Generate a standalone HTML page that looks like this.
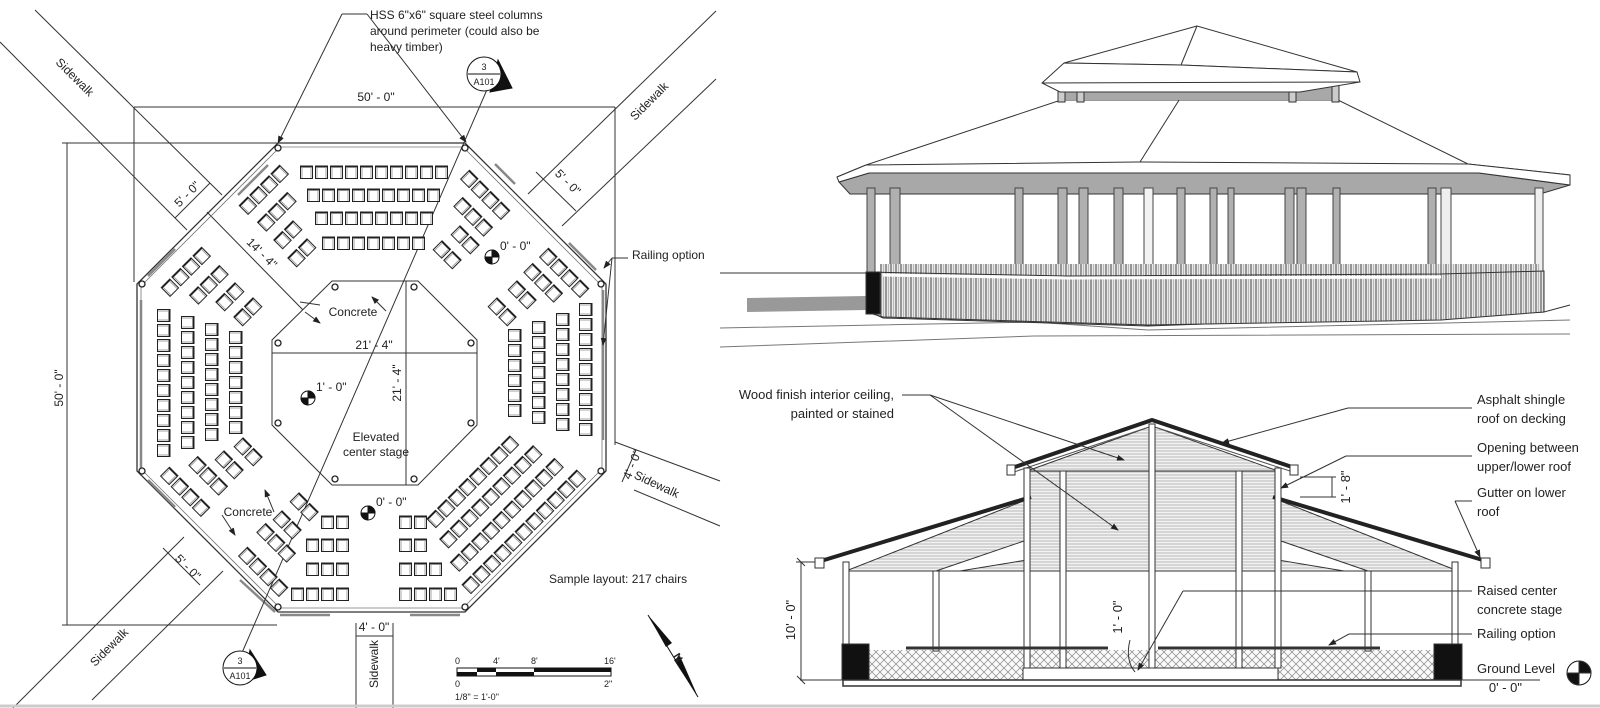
<!DOCTYPE html>
<html><head><meta charset="utf-8"><style>
html,body{margin:0;padding:0;background:#fff;}
svg{display:block;}
text{font-family:"Liberation Sans",sans-serif;fill:#222;}
</style></head><body>
<svg width="1600" height="708" viewBox="0 0 1600 708" xmlns="http://www.w3.org/2000/svg">
<defs>
<pattern id="ch" width="15" height="15" patternUnits="userSpaceOnUse">
<rect x="1.5" y="1" width="12" height="12.5" fill="#fff" stroke="#222" stroke-width="1"/>
<line x1="1.5" y1="1.5" x2="13.5" y2="1.5" stroke="#222" stroke-width="2"/>
<line x1="3" y1="3" x2="3" y2="13" stroke="#666" stroke-width="0.6"/>
<line x1="12" y1="3" x2="12" y2="13" stroke="#666" stroke-width="0.6"/>
</pattern>
<pattern id="rl" width="5" height="10" patternUnits="userSpaceOnUse">
<rect width="5" height="10" fill="#e8e8e8"/>
<line x1="1" y1="0" x2="1" y2="10" stroke="#333" stroke-width="0.9"/>
<line x1="3.5" y1="0" x2="3.5" y2="10" stroke="#999" stroke-width="0.6"/>
</pattern>
<pattern id="hz" width="6" height="3" patternUnits="userSpaceOnUse">
<rect width="6" height="3" fill="#f2f2f2"/>
<line x1="0" y1="1" x2="6" y2="1" stroke="#aaa" stroke-width="0.8"/>
</pattern>
<pattern id="xh" width="8" height="8" patternUnits="userSpaceOnUse">
<rect width="8" height="8" fill="#fafafa"/>
<path d="M0 0L8 8M8 0L0 8" stroke="#888" stroke-width="0.7"/>
</pattern>
<marker id="ar" markerWidth="8" markerHeight="6" refX="7" refY="3" orient="auto"><path d="M0 0L8 3L0 6z" fill="#222"/></marker>
</defs>

<!-- ============ PLAN ============ -->
<g stroke="#333" stroke-width="1" fill="none">
<line x1="35" y1="10" x2="222" y2="195"/>
<line x1="0" y1="42" x2="187" y2="230"/>
<line x1="716" y1="11" x2="528" y2="194"/>
<line x1="716" y1="79" x2="562" y2="226"/>
<line x1="615" y1="442" x2="720" y2="481"/>
<line x1="634" y1="490" x2="720" y2="526"/>
<line x1="184" y1="537" x2="13" y2="708"/>
<line x1="223" y1="571" x2="92" y2="700"/>
<line x1="356" y1="623" x2="356" y2="708"/>
<line x1="393" y1="623" x2="393" y2="708"/>
<line x1="134" y1="107" x2="615" y2="107"/>
<line x1="134" y1="107" x2="134" y2="282"/>
<line x1="615" y1="107" x2="615" y2="445"/>
<line x1="67" y1="143" x2="67" y2="625"/>
<line x1="62" y1="143" x2="277" y2="143"/>
<line x1="62" y1="625" x2="277" y2="625"/>
<line x1="175" y1="218" x2="210" y2="183"/>
<line x1="536" y1="172" x2="576" y2="211"/>
<line x1="163" y1="548" x2="200" y2="585"/>
<line x1="622" y1="482" x2="636" y2="450"/>
<line x1="356" y1="636" x2="393" y2="636"/>
<line x1="207" y1="212" x2="303" y2="310"/>
<polygon points="278,143 465,143 606,284 606,471 465,612 278,612 137,471 137,284" stroke-width="1.3"/>
<polygon points="280,147 463,147 602,286 602,469 463,608 280,608 141,469 141,286" stroke="#777" stroke-width="0.8"/>
<g stroke="#888" stroke-width="2.5">
<line x1="238" y1="195" x2="268" y2="165"/>
<line x1="495" y1="164" x2="515" y2="184"/>
<line x1="148" y1="276" x2="175" y2="249"/>
<line x1="596" y1="270" x2="569" y2="243"/>
<line x1="603" y1="290" x2="603" y2="440"/>
<line x1="141" y1="300" x2="141" y2="470"/>
<line x1="148" y1="480" x2="175" y2="507"/>
<line x1="275" y1="612" x2="240" y2="580"/>
<line x1="280" y1="615" x2="330" y2="615"/>
<line x1="410" y1="615" x2="460" y2="615"/>
</g>
<polygon points="332,281 418,281 477,340 477,425 418,485 332,485 272,425 272,340"/>
<line x1="272" y1="353" x2="477" y2="353"/>
<line x1="406" y1="281" x2="406" y2="485"/>
<line x1="489" y1="85" x2="241" y2="655"/>
<line x1="342" y1="14" x2="367" y2="14"/>
<line x1="342" y1="14" x2="278" y2="143" marker-end="url(#ar)"/>
<line x1="367" y1="14" x2="466" y2="142" marker-end="url(#ar)"/>
<line x1="628" y1="258" x2="612" y2="258"/>
<line x1="612" y1="258" x2="604" y2="268" marker-end="url(#ar)"/>
<line x1="612" y1="258" x2="603" y2="345" marker-end="url(#ar)"/>
<line x1="320" y1="305" x2="300" y2="302"/>
<line x1="305" y1="312" x2="320" y2="323" marker-end="url(#ar)"/>
<line x1="386" y1="311" x2="372" y2="297" marker-end="url(#ar)"/>
<line x1="222" y1="515" x2="235" y2="535" marker-end="url(#ar)"/>
<line x1="274" y1="512" x2="265" y2="490" marker-end="url(#ar)"/>
</g>
<g fill="#fff" stroke="#222" stroke-width="1.3">
<circle cx="278" cy="148" r="3"/><circle cx="465" cy="148" r="3"/><circle cx="601" cy="284" r="3"/><circle cx="601" cy="471" r="3"/>
<circle cx="465" cy="607" r="3"/><circle cx="278" cy="607" r="3"/><circle cx="142" cy="471" r="3"/><circle cx="142" cy="284" r="3"/>
<circle cx="335" cy="287" r="3"/><circle cx="414" cy="287" r="3"/><circle cx="471" cy="343" r="3"/><circle cx="471" cy="423" r="3"/>
<circle cx="414" cy="479" r="3"/><circle cx="335" cy="479" r="3"/><circle cx="278" cy="423" r="3"/><circle cx="278" cy="343" r="3"/>
</g>
<g>
<g transform="translate(299,165)"><rect width="150" height="15" fill="url(#ch)"/></g>
<g transform="translate(306,188)"><rect width="135" height="15" fill="url(#ch)"/></g>
<g transform="translate(314,211)"><rect width="120" height="15" fill="url(#ch)"/></g>
<g transform="translate(321,236)"><rect width="105" height="15" fill="url(#ch)"/></g>

<g transform="translate(171,308) rotate(90)"><rect width="150" height="15" fill="url(#ch)"/></g>
<g transform="translate(195,315) rotate(90)"><rect width="135" height="15" fill="url(#ch)"/></g>
<g transform="translate(219,322) rotate(90)"><rect width="120" height="15" fill="url(#ch)"/></g>
<g transform="translate(243,330) rotate(90)"><rect width="105" height="15" fill="url(#ch)"/></g>

<g transform="translate(593,302) rotate(90)"><rect width="135" height="15" fill="url(#ch)"/></g>
<g transform="translate(570,312) rotate(90)"><rect width="120" height="15" fill="url(#ch)"/></g>
<g transform="translate(546,320) rotate(90)"><rect width="105" height="15" fill="url(#ch)"/></g>
<g transform="translate(522,328) rotate(90)"><rect width="90" height="15" fill="url(#ch)"/></g>

<g transform="translate(320,515)"><rect width="30" height="15" fill="url(#ch)"/></g>
<g transform="translate(305,538)"><rect width="45" height="15" fill="url(#ch)"/></g>
<g transform="translate(305,562)"><rect width="45" height="15" fill="url(#ch)"/></g>
<g transform="translate(290,587)"><rect width="60" height="15" fill="url(#ch)"/></g>
<g transform="translate(398,515)"><rect width="30" height="15" fill="url(#ch)"/></g>
<g transform="translate(398,538)"><rect width="30" height="15" fill="url(#ch)"/></g>
<g transform="translate(398,562)"><rect width="45" height="15" fill="url(#ch)"/></g>
<g transform="translate(398,587)"><rect width="60" height="15" fill="url(#ch)"/></g>

<g transform="translate(264,190) rotate(-45) translate(-30,-7.5)"><rect width="60" height="15" fill="url(#ch)"/></g>
<g transform="translate(277,212) rotate(-45) translate(-22.5,-7.5)"><rect width="45" height="15" fill="url(#ch)"/></g>
<g transform="translate(288,235) rotate(-45) translate(-15,-7.5)"><rect width="30" height="15" fill="url(#ch)"/></g>
<g transform="translate(302,253) rotate(-45) translate(-15,-7.5)"><rect width="30" height="15" fill="url(#ch)"/></g>
<g transform="translate(485,195) rotate(45) translate(-30,-7.5)"><rect width="60" height="15" fill="url(#ch)"/></g>
<g transform="translate(473,217) rotate(45) translate(-22.5,-7.5)"><rect width="45" height="15" fill="url(#ch)"/></g>
<g transform="translate(465,240) rotate(45) translate(-15,-7.5)"><rect width="30" height="15" fill="url(#ch)"/></g>
<g transform="translate(447,255) rotate(45) translate(-15,-7.5)"><rect width="30" height="15" fill="url(#ch)"/></g>
<g transform="translate(186,272) rotate(-45) translate(-30,-7.5)"><rect width="60" height="15" fill="url(#ch)"/></g>
<g transform="translate(209,285) rotate(-45) translate(-22.5,-7.5)"><rect width="45" height="15" fill="url(#ch)"/></g>
<g transform="translate(230,297) rotate(-45) translate(-15,-7.5)"><rect width="30" height="15" fill="url(#ch)"/></g>
<g transform="translate(248,312) rotate(-45) translate(-15,-7.5)"><rect width="30" height="15" fill="url(#ch)"/></g>
<g transform="translate(185,492) rotate(45) translate(-30,-7.5)"><rect width="60" height="15" fill="url(#ch)"/></g>
<g transform="translate(208,476) rotate(45) translate(-22.5,-7.5)"><rect width="45" height="15" fill="url(#ch)"/></g>
<g transform="translate(229,465) rotate(45) translate(-15,-7.5)"><rect width="30" height="15" fill="url(#ch)"/></g>
<g transform="translate(248,452) rotate(45) translate(-15,-7.5)"><rect width="30" height="15" fill="url(#ch)"/></g>
<g transform="translate(263,572) rotate(45) translate(-30,-7.5)"><rect width="60" height="15" fill="url(#ch)"/></g>
<g transform="translate(276,543) rotate(45) translate(-22.5,-7.5)"><rect width="45" height="15" fill="url(#ch)"/></g>
<g transform="translate(287,525) rotate(45) translate(-15,-7.5)"><rect width="30" height="15" fill="url(#ch)"/></g>
<g transform="translate(304,507) rotate(45) translate(-15,-7.5)"><rect width="30" height="15" fill="url(#ch)"/></g>
<g transform="translate(564,273) rotate(45) translate(-30,-7.5)"><rect width="60" height="15" fill="url(#ch)"/></g>
<g transform="translate(543,283) rotate(45) translate(-22.5,-7.5)"><rect width="45" height="15" fill="url(#ch)"/></g>
<g transform="translate(522,295) rotate(45) translate(-15,-7.5)"><rect width="30" height="15" fill="url(#ch)"/></g>
<g transform="translate(502,312) rotate(45) translate(-15,-7.5)"><rect width="30" height="15" fill="url(#ch)"/></g>
<g transform="translate(473,482) rotate(-45) translate(-60,-7.5)"><rect width="120" height="15" fill="url(#ch)"/></g>
<g transform="translate(491,497) rotate(-45) translate(-67.5,-7.5)"><rect width="135" height="15" fill="url(#ch)"/></g>
<g transform="translate(507,515) rotate(-45) translate(-75,-7.5)"><rect width="150" height="15" fill="url(#ch)"/></g>
<g transform="translate(524,532) rotate(-45) translate(-82.5,-7.5)"><rect width="165" height="15" fill="url(#ch)"/></g>
</g>

<g stroke="#111" stroke-width="1">
<circle cx="308" cy="398" r="7" fill="#fff"/><path d="M308 398V391A7 7 0 0 1 315 398Z M308 398V405A7 7 0 0 1 301 398Z" fill="#111"/>
<circle cx="492" cy="257" r="7" fill="#fff"/><path d="M492 257V250A7 7 0 0 1 499 257Z M492 257V264A7 7 0 0 1 485 257Z" fill="#111"/>
<circle cx="368" cy="513" r="7" fill="#fff"/><path d="M368 513V506A7 7 0 0 1 375 513Z M368 513V520A7 7 0 0 1 361 513Z" fill="#111"/>
</g>
<g stroke="#111" stroke-width="1">
<path d="M498 60L512 88L490 92Z" fill="#111"/>
<circle cx="484" cy="74" r="17" fill="#fff"/>
<line x1="468" y1="74" x2="500" y2="74"/>
<path d="M250 650L266 675L244 682Z" fill="#111"/>
<circle cx="240" cy="668" r="17" fill="#fff"/>
<line x1="224" y1="668" x2="256" y2="668"/>
</g>
<g font-size="9" text-anchor="middle">
<text x="484" y="70">3</text><text x="484" y="85">A101</text>
<text x="240" y="664">3</text><text x="240" y="679">A101</text>
</g>
<rect x="457" y="668" width="154" height="8" fill="#fff" stroke="#111"/>
<rect x="457" y="672" width="20" height="4" fill="#111"/>
<rect x="477" y="668" width="19" height="4" fill="#111"/>
<rect x="496" y="672" width="38" height="4" fill="#111"/>
<rect x="534" y="668" width="77" height="4" fill="#111"/>
<g font-size="9"><text x="455" y="664">0</text><text x="493" y="664">4'</text><text x="531" y="664">8'</text><text x="604" y="664">16'</text>
<text x="455" y="687">0</text><text x="604" y="687">2"</text><text x="455" y="700">1/8" = 1'-0"</text></g>
<path d="M648 615L672 643L666 647Z" fill="#111"/>
<path d="M698 697L674 660L680 656Z" fill="#111"/>
<line x1="648" y1="615" x2="698" y2="697" stroke="#111"/>
<text x="676" y="658" font-size="11" font-weight="bold" transform="rotate(58 676 654)">N</text>

<g font-size="12">
<text x="370" y="19">HSS 6"x6" square steel columns</text>
<text x="370" y="35">around perimeter (could also be</text>
<text x="370" y="51">heavy timber)</text>
<text x="376" y="101" text-anchor="middle">50' - 0"</text>
<text x="63" y="388" text-anchor="middle" transform="rotate(-90 63 388)">50' - 0"</text>
<text x="72" y="80" text-anchor="middle" transform="rotate(45 72 80)">Sidewalk</text>
<text x="652" y="104" text-anchor="middle" transform="rotate(-45 652 104)">Sidewalk</text>
<text x="655" y="488" text-anchor="middle" transform="rotate(25 655 488)">Sidewalk</text>
<text x="112" y="650" text-anchor="middle" transform="rotate(-45 112 650)">Sidewalk</text>
<text x="378" y="664" text-anchor="middle" transform="rotate(-90 378 664)">Sidewalk</text>
<text x="190" y="197" text-anchor="middle" transform="rotate(-45 190 197)">5' - 0"</text>
<text x="565" y="185" text-anchor="middle" transform="rotate(45 565 185)">5' - 0"</text>
<text x="185" y="570" text-anchor="middle" transform="rotate(45 185 570)">5' - 0"</text>
<text x="636" y="466" text-anchor="middle" transform="rotate(-68 636 466)">4' - 0"</text>
<text x="374" y="631" text-anchor="middle">4' - 0"</text>
<text x="259" y="256" text-anchor="middle" transform="rotate(45 259 256)">14' - 4"</text>
<text x="353" y="316" text-anchor="middle">Concrete</text>
<text x="248" y="516" text-anchor="middle">Concrete</text>
<text x="374" y="349" text-anchor="middle">21' - 4"</text>
<text x="401" y="383" text-anchor="middle" transform="rotate(-90 401 383)">21' - 4"</text>
<text x="316" y="391">1' - 0"</text>
<text x="500" y="250">0' - 0"</text>
<text x="376" y="506">0' - 0"</text>
<text x="376" y="441" text-anchor="middle">Elevated</text>
<text x="376" y="456" text-anchor="middle">center stage</text>
<text x="632" y="259">Railing option</text>
<text x="549" y="583">Sample layout: 217 chairs</text>
</g>

<!-- ============ 3D VIEW ============ -->
<g stroke="#333" stroke-width="1">
<polyline points="720,273 866,273" fill="none"/>
<polygon points="747,298 866,296 866,310 747,312" fill="#999" stroke="none"/>
<polyline points="720,328 1034,322 1148,330 1570,320" fill="none" stroke="#777"/>
<polyline points="720,347 1034,336 1570,334" fill="none" stroke="#777"/>
<polyline points="866,310 883,318 1148,326 1544,312 1570,305" fill="none"/>
<polygon points="1061,100 1338,100 1468,164 1570,175 837,177 866,165" fill="#fff"/>
<line x1="1181" y1="97" x2="1140" y2="162"/>
<polygon points="839,182 869,173 1143,173 1479,173 1570,185 1540,194 850,194" fill="#a8a8a8"/>
<polygon points="837,177 866,165 1137,162 1468,164 1570,175 1570,185 1479,173 1143,173 869,173 839,182" fill="#fff"/>
<polygon points="1061,82 1338,82 1338,100 1061,100" fill="#a8a8a8" stroke="none"/>
<g fill="#ccc"><rect x="1058" y="82" width="7" height="20"/><rect x="1077" y="82" width="7" height="20"/><rect x="1289" y="82" width="7" height="20"/><rect x="1332" y="82" width="7" height="20"/></g>
<polygon points="1197,26 1064,63 1181,65 1357,72" fill="#fff"/>
<polygon points="1042,83 1064,63 1181,65 1357,72 1360,82 1300,92 1060,92" fill="#fff"/>
<line x1="1042" y1="83" x2="1360" y2="82" />
<line x1="1197" y1="26" x2="1181" y2="65"/>
<g fill="#b0b0b0" stroke="#444">
<rect x="867" y="188" width="8" height="88"/><rect x="890" y="188" width="10" height="128"/>
<rect x="1015" y="188" width="8" height="80"/><rect x="1058" y="188" width="9" height="90"/>
<rect x="1079" y="188" width="9" height="90"/><rect x="1114" y="188" width="9" height="90"/>
<rect x="1144" y="188" width="9" height="135" fill="#f2f2f2"/><rect x="1177" y="188" width="8" height="90"/>
<rect x="1210" y="188" width="7" height="90"/><rect x="1228" y="188" width="6" height="90"/>
<rect x="1285" y="188" width="9" height="90"/><rect x="1297" y="188" width="9" height="90"/>
<rect x="1333" y="188" width="7" height="90"/><rect x="1428" y="188" width="8" height="90"/>
<rect x="1441" y="188" width="10" height="125" fill="#eee"/><rect x="1535" y="188" width="8" height="86" fill="#eee"/>
</g>
<rect x="880" y="264" width="660" height="12" fill="url(#rl)" stroke="none"/>
<polygon points="866,272 1067,276 1441,274 1544,271 1544,312 1441,320 1148,325 883,317 866,312" fill="url(#rl)"/>
<rect x="866" y="272" width="14" height="42" fill="#111"/>
<polyline points="883,275 1067,278 1441,277" fill="none" stroke="#fff" stroke-width="3"/>
</g>

<!-- ============ SECTION ============ -->
<g stroke="#333" stroke-width="1">
<polygon points="1027,471 1152,426 1278,471" fill="url(#hz)"/>
<polygon points="1031,498 1273,498 1458,571 846,571" fill="url(#hz)"/>
<rect x="1027" y="471" width="251" height="100" fill="url(#hz)" stroke="none"/>
<polygon points="936,571 1027,540 1027,560 960,571" fill="#fff"/>
<polygon points="1368,571 1278,540 1278,560 1344,571" fill="#fff"/>
<line x1="846" y1="571" x2="1458" y2="571"/>
<line x1="1027" y1="471" x2="1278" y2="471"/>
<polyline points="1012,468 1152,420 1295,468" fill="none" stroke="#222" stroke-width="4"/>
<polyline points="1014,472 1152,426 1293,472" fill="none" stroke="#555" stroke-width="1"/>
<line x1="1031" y1="497" x2="821" y2="561" stroke="#222" stroke-width="4"/>
<line x1="1273" y1="497" x2="1486" y2="561" stroke="#222" stroke-width="4"/>
<rect x="1007" y="465" width="8" height="10" fill="#fff"/>
<rect x="1290" y="465" width="8" height="10" fill="#fff"/>
<rect x="815" y="558" width="9" height="10" fill="#fff"/>
<rect x="1481" y="558" width="9" height="10" fill="#fff"/>
<rect x="869" y="650" width="565" height="30" fill="url(#xh)" stroke="none"/>
<rect x="1023" y="668" width="255" height="12" fill="#fff"/>
<g fill="#fff">
<rect x="843" y="562" width="6" height="84"/><rect x="933" y="571" width="6" height="80"/>
<rect x="1024" y="468" width="6" height="200"/><rect x="1060" y="471" width="6" height="197"/>
<rect x="1149" y="424" width="6" height="244"/><rect x="1236" y="471" width="6" height="197"/>
<rect x="1275" y="468" width="6" height="200"/><rect x="1365" y="571" width="6" height="80"/>
<rect x="1452" y="562" width="6" height="84"/>
</g>
<line x1="906" y1="648" x2="1108" y2="648" stroke-width="3"/>
<line x1="1158" y1="648" x2="1380" y2="648" stroke-width="3"/>
<rect x="842" y="644" width="27" height="36" fill="#111"/>
<rect x="1434" y="644" width="28" height="36" fill="#111"/>
<line x1="800" y1="680" x2="1540" y2="680"/>
<rect x="843" y="680" width="618" height="6" fill="#fff" stroke-width="1.5"/>
<line x1="801" y1="562" x2="801" y2="680"/>
<line x1="797" y1="558" x2="805" y2="566"/><line x1="797" y1="676" x2="805" y2="684"/>
<line x1="796" y1="562" x2="815" y2="562"/>
<line x1="1332" y1="477" x2="1332" y2="497"/>
<line x1="1300" y1="477" x2="1336" y2="477"/><line x1="1300" y1="497" x2="1336" y2="497"/>
<path d="M1130 640Q1125 660 1135 672" fill="none"/>
<g fill="none">
<line x1="902" y1="395" x2="930" y2="395"/>
<line x1="930" y1="395" x2="1124" y2="460" marker-end="url(#ar)"/>
<line x1="930" y1="395" x2="1118" y2="530" marker-end="url(#ar)"/>
<polyline points="1472,408 1348,408" />
<line x1="1348" y1="408" x2="1222" y2="443" marker-end="url(#ar)"/>
<polyline points="1472,456 1346,456"/>
<line x1="1346" y1="456" x2="1281" y2="488" marker-end="url(#ar)"/>
<polyline points="1472,501 1455,501"/>
<line x1="1455" y1="501" x2="1480" y2="557" marker-end="url(#ar)"/>
<polyline points="1472,591 1183,591"/>
<line x1="1183" y1="591" x2="1138" y2="670" marker-end="url(#ar)"/>
<polyline points="1472,634 1349,634"/>
<line x1="1349" y1="634" x2="1329" y2="645" marker-end="url(#ar)"/>
</g>
<circle cx="1579" cy="673" r="12" fill="#fff" stroke="#111"/>
<path d="M1579 673V661A12 12 0 0 1 1591 673Z M1579 673V685A12 12 0 0 1 1567 673Z" fill="#111"/>
</g>
<g font-size="13">
<text x="894" y="399" text-anchor="end">Wood finish interior ceiling,</text>
<text x="894" y="418" text-anchor="end">painted or stained</text>
<text x="1477" y="404">Asphalt shingle</text>
<text x="1477" y="423">roof on decking</text>
<text x="1477" y="452">Opening between</text>
<text x="1477" y="471">upper/lower roof</text>
<text x="1477" y="497">Gutter on lower</text>
<text x="1477" y="516">roof</text>
<text x="1477" y="595">Raised center</text>
<text x="1477" y="614">concrete stage</text>
<text x="1477" y="638">Railing option</text>
<text x="1477" y="673">Ground Level</text>
<text x="1522" y="692" text-anchor="end">0' - 0"</text>
<text x="795" y="620" text-anchor="middle" transform="rotate(-90 795 620)">10' - 0"</text>
<text x="1350" y="487" text-anchor="middle" transform="rotate(-90 1350 487)">1' - 8"</text>
<text x="1122" y="617" text-anchor="middle" transform="rotate(-90 1122 617)">1' - 0"</text>
</g>
<line x1="0" y1="706" x2="1600" y2="706" stroke="#ccc" stroke-width="3"/>
</svg>
</body></html>
